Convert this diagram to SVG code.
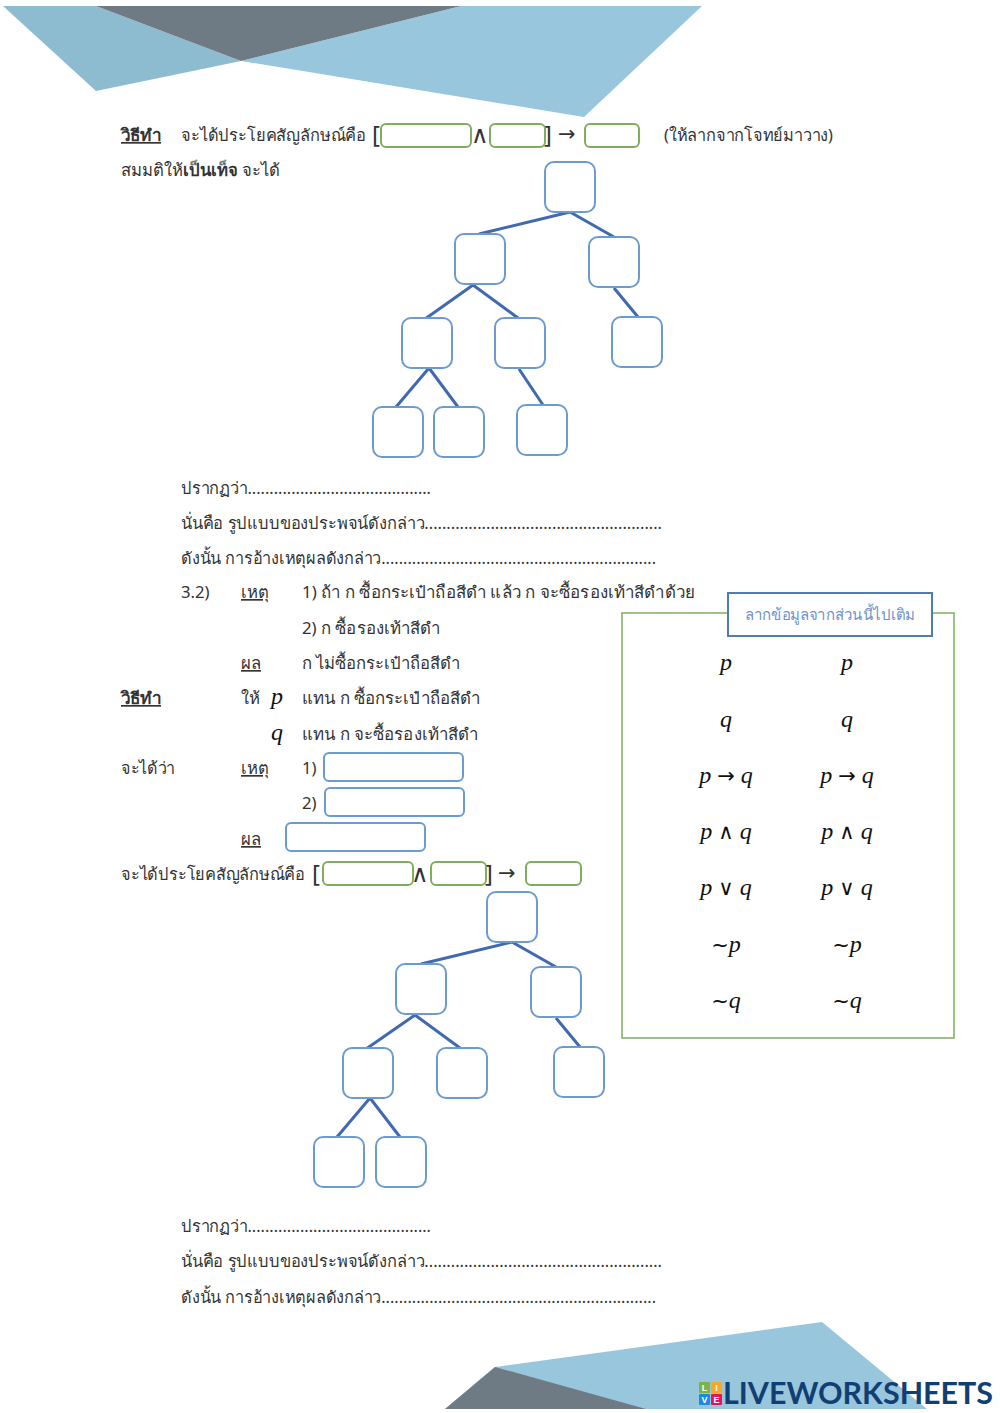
<svg xmlns="http://www.w3.org/2000/svg" width="1000" height="1413" viewBox="0 0 1000 1413">
<style>
text{font-family:"Noto Sans","Liberation Sans","DejaVu Sans",sans-serif;font-size:16.7px;fill:#333}
.b{font-weight:700}
.u{text-decoration:underline}
.m{font-family:"Liberation Serif",serif;font-style:italic;font-size:24px;fill:#111;text-anchor:middle}
.o{font-family:"DejaVu Sans",sans-serif;font-style:normal;font-size:21px}
.w{font-family:"DejaVu Sans",sans-serif;font-size:24px}
.bx{fill:#fff;stroke:#6b9bd0;stroke-width:2}
.gb{fill:#fff;stroke:#7fae5c;stroke-width:2}
.ln{stroke:#4169b0;stroke-width:3;fill:none}
.lg{font-size:9px;font-weight:700;fill:#fff;font-family:"Liberation Sans",sans-serif;text-anchor:middle}
</style>
<g id="header-art">
<polygon points="3,6 96,6 241,61 96,91" fill="#8dbbd0"/>
<polygon points="461,6 702,6 584,117 241,61" fill="#98c6dc"/>
<polygon points="96,6 461,6 241,61" fill="#6e7b85"/>
</g>
<g id="footer-art">
<polygon points="495,1367 822,1322 927,1409 445,1409" fill="#98c6dc"/>
<polygon points="495,1367 445,1409 646,1409" fill="#6e7b85"/>
</g>
<g id="connectors">
<path class="ln" d="M570 212L479 234M570 212L614 237M473 285L425 319M473 285L518 318M614 288L638 317M429 368L396 407M429 368L458 407M519 369L543 405"/>
<path class="ln" d="M512 942L421 964M512 942L556 967M415 1015L366 1049M415 1015L460 1048M556 1018L580 1047M370 1098L337 1137M370 1098L400 1137"/>
</g>
<g id="tree1">
<rect id="t1n1" class="bx" x="545" y="162" width="50" height="50" rx="9"/>
<rect id="t1n2" class="bx" x="455" y="234" width="50" height="50" rx="9"/>
<rect id="t1n3" class="bx" x="589" y="237" width="50" height="50" rx="9"/>
<rect id="t1n4" class="bx" x="402" y="318" width="50" height="50" rx="9"/>
<rect id="t1n5" class="bx" x="495" y="318" width="50" height="50" rx="9"/>
<rect id="t1n6" class="bx" x="612" y="317" width="50" height="50" rx="9"/>
<rect id="t1n7" class="bx" x="373" y="407" width="50" height="50" rx="9"/>
<rect id="t1n8" class="bx" x="434" y="407" width="50" height="50" rx="9"/>
<rect id="t1n9" class="bx" x="517" y="405" width="50" height="50" rx="9"/>
</g>
<g id="tree2">
<rect id="t2n1" class="bx" x="487" y="892" width="50" height="50" rx="9"/>
<rect id="t2n2" class="bx" x="396" y="964" width="50" height="50" rx="9"/>
<rect id="t2n3" class="bx" x="531" y="967" width="50" height="50" rx="9"/>
<rect id="t2n4" class="bx" x="343" y="1048" width="50" height="50" rx="9"/>
<rect id="t2n5" class="bx" x="437" y="1048" width="50" height="50" rx="9"/>
<rect id="t2n6" class="bx" x="554" y="1047" width="50" height="50" rx="9"/>
<rect id="t2n7" class="bx" x="314" y="1137" width="50" height="50" rx="9"/>
<rect id="t2n8" class="bx" x="376" y="1137" width="50" height="50" rx="9"/>
</g>
<g id="text-top">
<text class="b u" x="121" y="141" textLength="40" lengthAdjust="spacingAndGlyphs">วิธีทำ</text>
<text x="181" y="141" textLength="185" lengthAdjust="spacingAndGlyphs">จะได้ประโยคสัญลักษณ์คือ</text>
<text x="372" y="143" style="font-size:24px">[</text>
<text x="471" y="143" class="w">∧</text>
<text x="544" y="143" style="font-size:24px">]</text>
<text x="558" y="141" class="o">→</text>
<text x="664" y="141" textLength="169" lengthAdjust="spacingAndGlyphs">(ให้ลากจากโจทย์มาวาง)</text>
<text x="121" y="176" textLength="159" lengthAdjust="spacingAndGlyphs">สมมติให้<tspan class="b">เป็นเท็จ</tspan> จะได้</text>
<rect id="g1" class="gb" x="381" y="124" width="90" height="23" rx="5"/>
<rect id="g2" class="gb" x="490" y="124" width="55" height="23" rx="5"/>
<rect id="g3" class="gb" x="585" y="124" width="54" height="23" rx="5"/>
</g>
<g id="text-mid1">
<text x="181" y="494" textLength="250" lengthAdjust="spacingAndGlyphs">ปรากฏว่า..........................................</text>
<text x="181" y="529" textLength="481" lengthAdjust="spacingAndGlyphs">นั่นคือ รูปแบบของประพจน์ดังกล่าว......................................................</text>
<text x="181" y="564" textLength="475" lengthAdjust="spacingAndGlyphs">ดังนั้น การอ้างเหตุผลดังกล่าว...............................................................</text>
<text x="181" y="598">3.2)</text>
<text class="u" x="241" y="598">เหตุ</text>
<text x="302" y="598" textLength="393" lengthAdjust="spacingAndGlyphs">1) ถ้า ก ซื้อกระเป๋าถือสีดำ แล้ว ก จะซื้อรองเท้าสีดำด้วย</text>
<text x="302" y="634" textLength="138" lengthAdjust="spacingAndGlyphs">2) ก ซื้อรองเท้าสีดำ</text>
<text class="u" x="241" y="669">ผล</text>
<text x="302" y="669" textLength="158" lengthAdjust="spacingAndGlyphs">ก ไม่ซื้อกระเป๋าถือสีดำ</text>
<text class="b u" x="121" y="704" textLength="40" lengthAdjust="spacingAndGlyphs">วิธีทำ</text>
<text x="241" y="704">ให้</text>
<text class="m" x="277" y="704">p</text>
<text x="302" y="704" textLength="178" lengthAdjust="spacingAndGlyphs">แทน ก ซื้อกระเป๋าถือสีดำ</text>
<text class="m" x="277" y="740">q</text>
<text x="302" y="740" textLength="176" lengthAdjust="spacingAndGlyphs">แทน ก จะซื้อรองเท้าสีดำ</text>
<text x="121" y="774" textLength="54" lengthAdjust="spacingAndGlyphs">จะได้ว่า</text>
<text class="u" x="241" y="774">เหตุ</text>
<text x="302" y="774">1)</text>
<text x="302" y="809">2)</text>
<text class="u" x="241" y="845">ผล</text>
<text x="121" y="880" textLength="184" lengthAdjust="spacingAndGlyphs">จะได้ประโยคสัญลักษณ์คือ</text>
<text x="312" y="882" style="font-size:24px">[</text>
<text x="411" y="882" class="w">∧</text>
<text x="485" y="882" style="font-size:24px">]</text>
<text x="498" y="880" class="o">→</text>
<rect id="a1" class="bx" x="324" y="753" width="139" height="28" rx="5"/>
<rect id="a2" class="bx" x="325" y="788" width="139" height="28" rx="5"/>
<rect id="a3" class="bx" x="286" y="823" width="139" height="28" rx="5"/>
<rect id="g4" class="gb" x="323" y="862" width="90" height="23" rx="5"/>
<rect id="g5" class="gb" x="431" y="862" width="55" height="23" rx="5"/>
<rect id="g6" class="gb" x="526" y="862" width="55" height="23" rx="5"/>
</g>
<g id="word-bank">
<rect x="622" y="613" width="332" height="425" fill="#fff" stroke="#7fae5c" stroke-width="1.500"/>
<rect x="728" y="593" width="204" height="43" fill="#fff" stroke="#4f7cb3" stroke-width="2"/>
<text x="745" y="620" textLength="170" lengthAdjust="spacingAndGlyphs" style="font-size:15.500px;fill:#6f93cc">ลากข้อมูลจากส่วนนี้ไปเติม</text>
<text class="m" x="726" y="670">p</text><text class="m" x="847" y="670">p</text>
<text class="m" x="726" y="727">q</text><text class="m" x="847" y="727">q</text>
<text class="m" x="726" y="783">p <tspan class="o">→</tspan> q</text><text class="m" x="847" y="783">p <tspan class="o">→</tspan> q</text>
<text class="m" x="726" y="839">p <tspan class="o">∧</tspan> q</text><text class="m" x="847" y="839">p <tspan class="o">∧</tspan> q</text>
<text class="m" x="726" y="895">p <tspan class="o">∨</tspan> q</text><text class="m" x="847" y="895">p <tspan class="o">∨</tspan> q</text>
<text class="m" x="726" y="952"><tspan class="o">~</tspan>p</text><text class="m" x="847" y="952"><tspan class="o">~</tspan>p</text>
<text class="m" x="726" y="1008"><tspan class="o">~</tspan>q</text><text class="m" x="847" y="1008"><tspan class="o">~</tspan>q</text>
</g>
<g id="text-bottom">
<text x="181" y="1232" textLength="250" lengthAdjust="spacingAndGlyphs">ปรากฏว่า..........................................</text>
<text x="181" y="1267" textLength="481" lengthAdjust="spacingAndGlyphs">นั่นคือ รูปแบบของประพจน์ดังกล่าว......................................................</text>
<text x="181" y="1303" textLength="475" lengthAdjust="spacingAndGlyphs">ดังนั้น การอ้างเหตุผลดังกล่าว...............................................................</text>
</g>
<g id="logo">
<rect x="699" y="1382" width="11" height="11" rx="1" fill="#7cb342"/>
<rect x="711" y="1382" width="11" height="11" rx="1" fill="#f9a825"/>
<rect x="699" y="1394" width="11" height="11" rx="1" fill="#1e88e5"/>
<rect x="711" y="1394" width="11" height="11" rx="1" fill="#d81b60"/>
<text class="lg" x="704.500" y="1391">L</text>
<text class="lg" x="716.500" y="1391">I</text>
<text class="lg" x="704.500" y="1403">V</text>
<text class="lg" x="716.500" y="1403">E</text>
<text x="723" y="1404" textLength="270" lengthAdjust="spacingAndGlyphs" style="font-family:Lato,'Liberation Sans',sans-serif;font-size:30px;font-weight:700;fill:#123f73">LIVEWORKSHEETS</text>
</g>
</svg>
